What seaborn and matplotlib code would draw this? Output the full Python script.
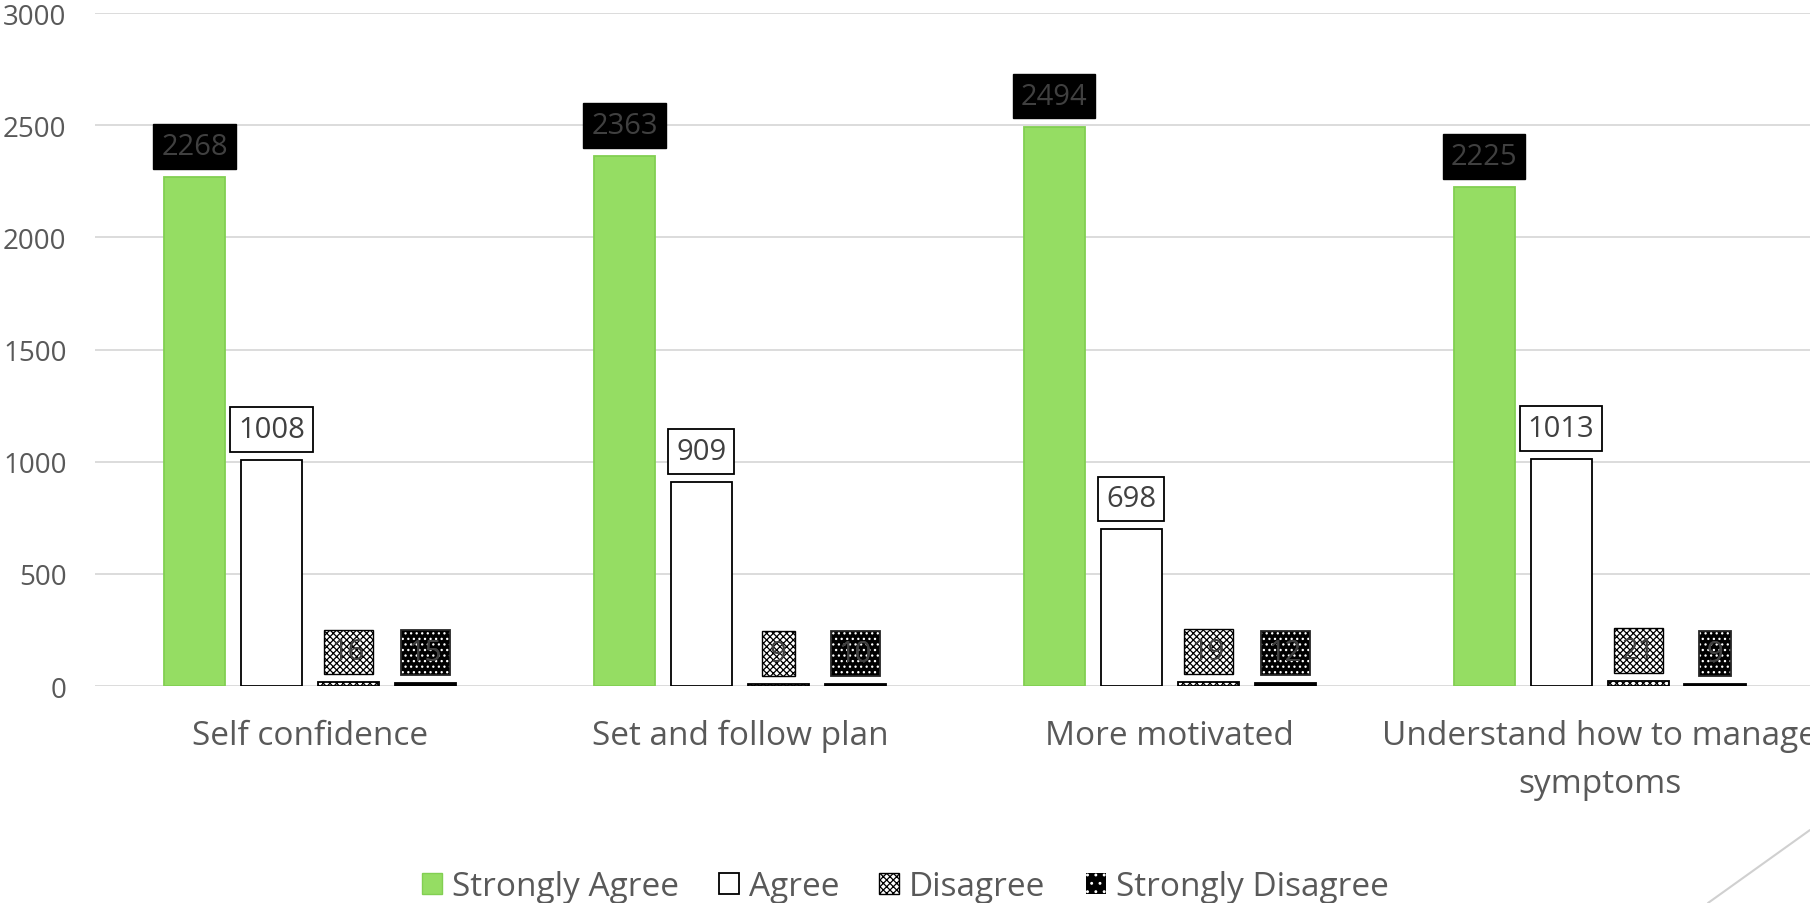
import numpy as np
import pandas as pd
import matplotlib
matplotlib.use("Agg")
import matplotlib.pyplot as plt
import seaborn as sns
from matplotlib.patches import Patch
from matplotlib.lines import Line2D

categories = ["Self confidence", "Set and follow plan", "More motivated",
              "Understand how to manage\nsymptoms"]
responses = ["Strongly Agree", "Agree", "Disagree", "Strongly Disagree"]
strongly_agree = [2268, 2363, 2494, 2225]
agree = [1008, 909, 698, 1013]
disagree = [16, 9, 19, 21]
strongly_disagree = [15, 10, 12, 9]
y_ticks = [0, 500, 1000, 1500, 2000, 2500, 3000]

sns.set_theme(style="white")
plt.rcParams["font.family"] = ["Open Sans", "DejaVu Sans"]
plt.rcParams["hatch.linewidth"] = 0.9

series = [strongly_agree, agree, disagree, strongly_disagree]
df = pd.DataFrame({
    "Category": [c for vals in series for c in categories],
    "Response": [r for r, vals in zip(responses, series) for _ in vals],
    "Count": [v for vals in series for v in vals],
})

GREEN = "#95DD63"
bar_face = {"Strongly Agree": GREEN, "Agree": "white",
            "Disagree": "white", "Strongly Disagree": "black"}
bar_edge = {"Strongly Agree": "#82CF52", "Agree": "black",
            "Disagree": "black", "Strongly Disagree": "black"}
bar_hatch = {"Strongly Agree": None, "Agree": None,
             "Disagree": "xxxxx", "Strongly Disagree": None}

TXT = "#595959"
FS_TICK = 20
FS_CAT = 24
FS_LBL = 21

fig = plt.figure(figsize=(18.1, 9.04), dpi=100)
ax = fig.add_axes([0.0525, 0.240, 0.950, 0.7445])

sns.barplot(data=df, x="Category", y="Count", hue="Response",
            order=categories, hue_order=responses,
            palette=[bar_face[r] for r in responses],
            width=0.716, gap=0.207, legend=False, ax=ax, saturation=1)

for resp, cont in zip(responses, ax.containers):
    for p in cont:
        p.set_facecolor(bar_face[resp])
        p.set_edgecolor(bar_edge[resp])
        p.set_linewidth(1.3)
        if bar_hatch[resp]:
            p.set_hatch(bar_hatch[resp])

# value labels in boxes above each bar
label_styles = {
    "Strongly Agree": [dict(fc="black", ec="black", lw=1.0, hatch=None)],
    "Agree": [dict(fc="white", ec="black", lw=1.3, hatch=None)],
    "Disagree": [dict(fc="white", ec="black", lw=1.0, hatch="xxxxx")],
    "Strongly Disagree": [dict(fc="black", ec="white", lw=0.0, hatch="..."),
                          dict(fc="none", ec="#262626", lw=1.3, hatch=None)],
}
label_color = "#404040"

for resp, cont in zip(responses, ax.containers):
    for style in label_styles[resp]:
        anns = ax.bar_label(cont, fmt="%d", padding=11.5, fontsize=FS_LBL,
                            color=label_color)
        for a in anns:
            box = dict(boxstyle="square,pad=0.27", fc=style["fc"],
                       ec=style["ec"], lw=style["lw"])
            if style["hatch"]:
                box["hatch"] = style["hatch"]
            a.set_bbox(box)

ax.set_xlim(-0.5, 3.5)
ax.set_ylim(0, 3000)
ax.set_yticks(y_ticks)
ax.set_yticklabels([str(t) for t in y_ticks])
ax.yaxis.grid(True, color="#D9D9D9", lw=1.3)
ax.set_axisbelow(True)
for s in ax.spines.values():
    s.set_visible(False)
ax.tick_params(axis="y", length=0, pad=20.5, labelsize=FS_TICK, labelcolor=TXT)
ax.tick_params(axis="x", length=0, pad=23.5, labelsize=FS_CAT, labelcolor=TXT)
for t in ax.get_xticklabels():
    t.set_linespacing(1.6)
ax.set_xlabel("")
ax.set_ylabel("")

handles = [
    Patch(facecolor=GREEN, edgecolor="#82CF52", label="Strongly Agree"),
    Patch(facecolor="white", edgecolor="black", lw=1.3, label="Agree"),
    Patch(facecolor="white", edgecolor="black", hatch="xxxxx", label="Disagree"),
    Patch(facecolor="black", edgecolor="white", hatch="..", lw=0,
          label="Strongly Disagree"),
]
fig.legend(handles=handles, loc="center", bbox_to_anchor=(0.5, 0.018),
           ncol=4, frameon=False, fontsize=FS_CAT, handlelength=0.6,
           handleheight=0.6, handletextpad=0.3, columnspacing=1.2,
           labelcolor=TXT)

fig.add_artist(Line2D([1708 / 1810, 1.0], [0, 73 / 904],
                      transform=fig.transFigure, color="#D0D0D0", lw=1.5))

fig.savefig("out.png", dpi=100)
